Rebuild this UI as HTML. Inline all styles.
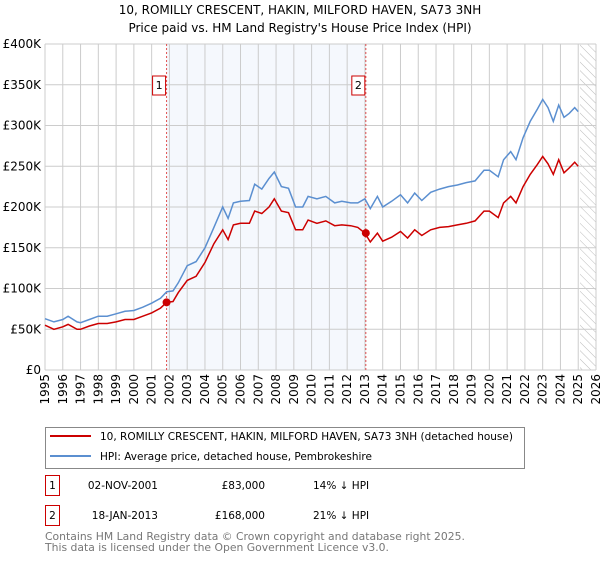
<!DOCTYPE html>
<html><head><meta charset="utf-8"><style>
body{margin:0;background:#fff;font-family:"Liberation Sans","DejaVu Sans",sans-serif;}
svg text{font-family:"DejaVu Sans","Liberation Sans",sans-serif;}
</style></head><body>
<svg id="c" width="600" height="560" xmlns="http://www.w3.org/2000/svg">
<defs><pattern id="hatch" width="6" height="6" patternUnits="userSpaceOnUse" patternTransform="rotate(-45)"><line x1="0" y1="0" x2="0" y2="6" stroke="#bbb" stroke-width="1"/></pattern></defs>
<text x="300" y="14" text-anchor="middle" font-size="12">10, ROMILLY CRESCENT, HAKIN, MILFORD HAVEN, SA73 3NH</text>
<text x="300" y="32" text-anchor="middle" font-size="12">Price paid vs. HM Land Registry's House Price Index (HPI)</text>
<g id="plot"></g>
<g>
<rect x="45.5" y="427.5" width="479" height="41" fill="#fff" stroke="#888"/>
<line x1="50" y1="436" x2="91" y2="436" stroke="#cc0000" stroke-width="2"/>
<text x="100" y="440" font-size="10.5">10, ROMILLY CRESCENT, HAKIN, MILFORD HAVEN, SA73 3NH (detached house)</text>
<line x1="50" y1="456" x2="91" y2="456" stroke="#5b8fd0" stroke-width="2"/>
<text x="100" y="460" font-size="10.5">HPI: Average price, detached house, Pembrokeshire</text>
</g>
<g font-size="10.5">
<rect x="45.5" y="475.5" width="14" height="20" fill="none" stroke="#cc0000"/>
<text x="52.5" y="489" text-anchor="middle">1</text>
<text x="158" y="489" text-anchor="end">02-NOV-2001</text>
<text x="265" y="489" text-anchor="end">£83,000</text>
<text x="313" y="489">14% ↓ HPI</text>
<rect x="45.5" y="505.5" width="14" height="20" fill="none" stroke="#cc0000"/>
<text x="52.5" y="519" text-anchor="middle">2</text>
<text x="158" y="519" text-anchor="end">18-JAN-2013</text>
<text x="265" y="519" text-anchor="end">£168,000</text>
<text x="313" y="519">21% ↓ HPI</text>
</g>
<text x="45" y="540" font-size="10.8" fill="#777">Contains HM Land Registry data © Crown copyright and database right 2025.</text>
<text x="45" y="551" font-size="10.8" fill="#777">This data is licensed under the Open Government Licence v3.0.</text>
</svg>
<script>
const years=[1995.0,1995.5,1996.0,1996.3,1996.8,1997.0,1997.5,1998,1998.5,1999,1999.5,2000,2000.5,2001,2001.5,2001.84,2002.2,2002.5,2003,2003.5,2004,2004.5,2005,2005.3,2005.6,2006,2006.5,2006.8,2007.2,2007.6,2007.9,2008.3,2008.7,2009.1,2009.5,2009.8,2010.3,2010.8,2011.3,2011.7,2012.2,2012.6,2013.0,2013.3,2013.7,2014.0,2014.5,2015,2015.4,2015.8,2016.2,2016.7,2017.2,2017.7,2018.2,2018.7,2019.2,2019.7,2020,2020.5,2020.8,2021.2,2021.5,2021.9,2022.3,2022.7,2023.0,2023.3,2023.6,2023.9,2024.2,2024.5,2024.8,2025.0];
const hpiValues=[63,59,62,66,59,58,62,66,66,69,72,73,77,82,88,96,97,107,128,133,150,175,200,186,205,207,208,228,222,235,243,225,223,200,200,213,210,213,205,207,205,205,210,198,213,200,207,215,205,217,208,218,222,225,227,230,232,245,245,237,258,268,258,285,305,320,332,322,305,325,310,315,322,317];
const priceValues=[55,50,53,56,50,50,54,57,57,59,62,62,66,70,76,83,84,95,110,115,132,155,172,160,178,180,180,195,192,200,210,195,193,172,172,184,180,183,177,178,177,175,168,157,168,158,163,170,162,172,165,172,175,176,178,180,183,195,195,187,205,213,205,225,240,252,262,253,240,258,242,248,255,250];
const saleYears=[2001.84,2013.05];
const salePrices=[83,168];
const saleLabels=["1","2"];
const yTicks=[0,50,100,150,200,250,300,350,400];
const yTickLabels=["£0","£50K","£100K","£150K","£200K","£250K","£300K","£350K","£400K"];
const xTicks=[1995,1996,1997,1998,1999,2000,2001,2002,2003,2004,2005,2006,2007,2008,2009,2010,2011,2012,2013,2014,2015,2016,2017,2018,2019,2020,2021,2022,2023,2024,2025,2026];
const X0=45,X1=596,Y0=370,Y1=44;
const xs=v=>X0+(v-1995)/(2026-1995)*(X1-X0);
const ys=v=>Y0-v/400*(Y0-Y1);
const NS="http://www.w3.org/2000/svg";
const plot=document.getElementById('plot');
function mk(t,a,p){const e=document.createElementNS(NS,t);for(const k in a)e.setAttribute(k,a[k]);(p||plot).appendChild(e);return e;}
let r=mk('rect',{x:xs(saleYears[0]),y:Y1,width:xs(saleYears[1])-xs(saleYears[0]),height:Y0-Y1,fill:'#eef3fc',opacity:0.6});


let h=mk('rect',{x:xs(2025.1),y:Y1,width:X1-xs(2025.1),height:Y0-Y1,fill:'url(#hatch)'});


yTicks.forEach((v,i)=>{
 let g=mk('line',{x1:X0,x2:X1,y1:ys(v),y2:ys(v),stroke:'#ccc'});
 
 
 let t=mk('text',{x:X0-4,y:ys(v)+4,'text-anchor':'end','font-size':'12'});
 t.textContent=yTickLabels[i];
 
 
});
xTicks.forEach(v=>{
 let g=mk('line',{x1:xs(v),x2:xs(v),y1:Y1,y2:Y0,stroke:'#ccc'});
 
 
 let t=mk('text',{x:0,y:0,'text-anchor':'end','font-size':'12',transform:`translate(${xs(v)+4},374) rotate(-90)`});
 t.textContent=v;
 
 
});
saleYears.forEach((v,i)=>{
 let l=mk('line',{x1:xs(v),x2:xs(v),y1:Y1,y2:Y0,stroke:'#e05050','stroke-dasharray':'2,2'});
 
 
 let b=mk('rect',{x:xs(v)-14,y:76,width:13,height:19,fill:'#fff',stroke:'#cc0000'});
 
 
 let t=mk('text',{x:xs(v)-7.5,y:89,'text-anchor':'middle','font-size':'11'});
 t.textContent=saleLabels[i];
 
 
});
function path(vals){return years.map((y,i)=>(i?'L':'M')+xs(y).toFixed(1)+','+ys(vals[i]).toFixed(1)).join('');}
let hp=mk('path',{d:path(hpiValues),fill:'none',stroke:'#5b8fd0','stroke-width':1.5});


let pp=mk('path',{d:path(priceValues),fill:'none',stroke:'#cc0000','stroke-width':1.5});


saleYears.forEach((v,i)=>{
 let c=mk('circle',{cx:xs(v),cy:ys(salePrices[i]),r:4,fill:'#cc0000'});
 
 
});
</script>
</body></html>
